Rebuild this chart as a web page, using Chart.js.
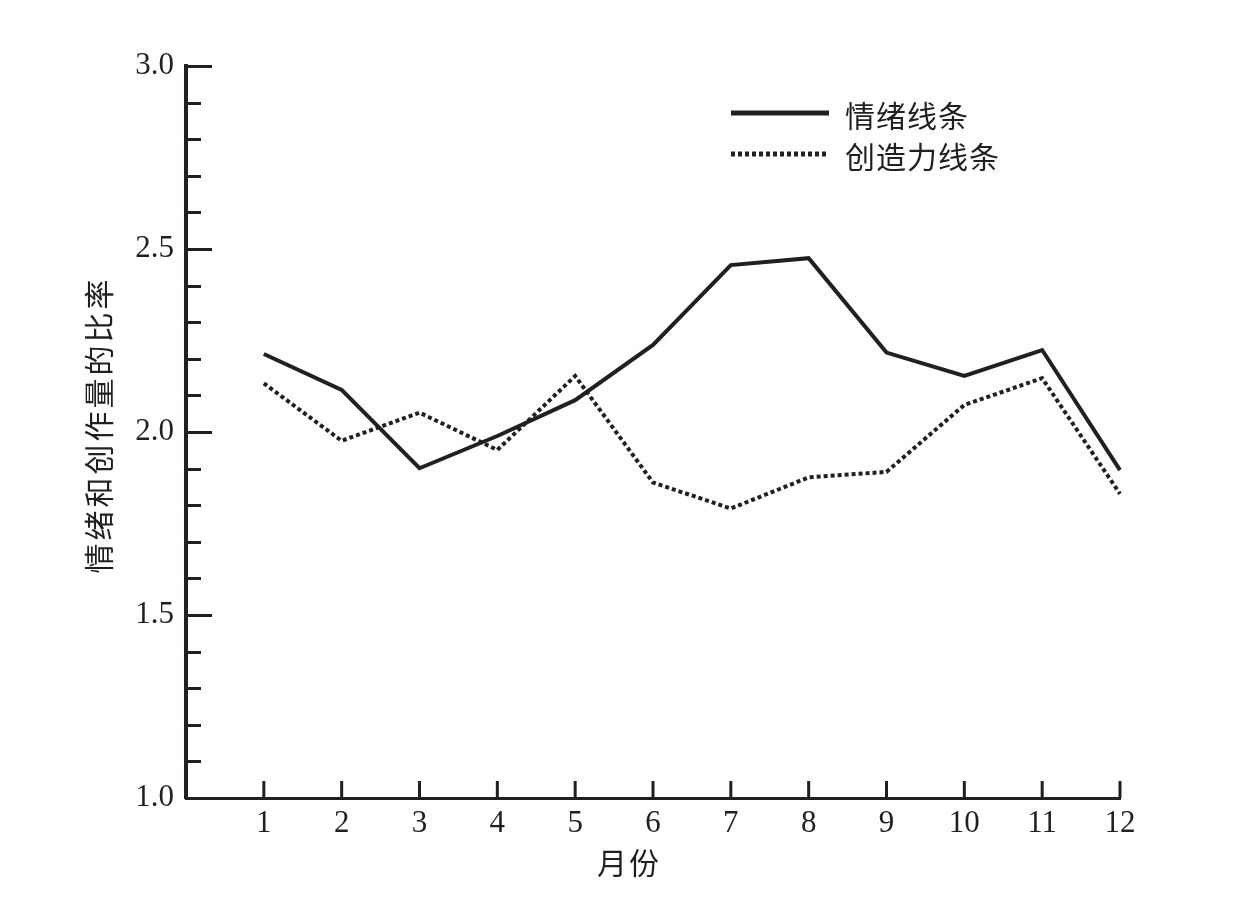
<!DOCTYPE html>
<html><head><meta charset="utf-8">
<script src="https://cdn.jsdelivr.net/npm/chart.js@4.4.0/dist/chart.umd.min.js"></script>
<style>html,body{margin:0;padding:0;background:#fff}#wrap{width:1243px;height:902px;position:relative}</style>
</head><body><div id="wrap"><canvas id="c" width="1243" height="902"></canvas></div>
<script>
// ---- data ----
const months = [1,2,3,4,5,6,7,8,9,10,11,12];
const emotionValues = [2.213,2.115,1.901,1.989,2.087,2.238,2.456,2.475,2.217,2.153,2.224,1.896];
const creativityValues = [2.133,1.976,2.053,1.951,2.153,1.862,1.791,1.876,1.891,2.074,2.147,1.831];
const seriesNames = ['情绪线条','创造力线条'];
const yTickValues = [1.0,1.5,2.0,2.5,3.0];
const yTickLabels = ['1.0','1.5','2.0','2.5','3.0'];
const xTitle = '月份';
const yTitle = '情绪和创作量的比率';

const INK = '#231f20';
const CJK = '"Noto Sans CJK SC", sans-serif';
const SERIF = '"Liberation Serif", "DejaVu Serif", serif';

const innerTicks = {
  id: 'innerTicks',
  afterDraw(chart) {
    const ctx = chart.ctx, x = chart.scales.x, y = chart.scales.y;
    const area = chart.chartArea;
    ctx.save();
    ctx.strokeStyle = INK;
    ctx.lineWidth = 3;
    // y ticks every 0.1, major every 0.5
    for (let k = 11; k <= 30; k++) {
      const v = k / 10;
      const py = Math.round(y.getPixelForValue(v)) + 0.5;
      const len = (k % 5 === 0) ? 26 : 15;
      ctx.beginPath();
      ctx.moveTo(area.left, py);
      ctx.lineTo(area.left + len, py);
      ctx.stroke();
    }
    // x ticks
    months.forEach(m => {
      const px = x.getPixelForValue(m);
      ctx.beginPath();
      ctx.moveTo(px, area.bottom);
      ctx.lineTo(px, area.bottom - 17);
      ctx.stroke();
    });
    // axis titles
    ctx.fillStyle = INK;
    ctx.font = '30px ' + CJK;
    ctx.textAlign = 'center';
    ctx.textBaseline = 'middle';
    ctx.letterSpacing = '2px';
    ctx.fillText(xTitle, 629, 863);
    ctx.save();
    ctx.translate(99, 425);
    ctx.rotate(-Math.PI / 2);
    ctx.letterSpacing = '3px';
    ctx.fillText(yTitle, 0, 0);
    ctx.restore();
    // legend
    ctx.letterSpacing = '1px';
    ctx.textAlign = 'left';
    chart.data.datasets.forEach((ds, i) => {
      const ly = 113 + i * 41;
      ctx.save();
      ctx.lineWidth = 5;
      ctx.lineCap = 'butt';
      ctx.setLineDash(ds.borderDash || []);
      ctx.beginPath();
      ctx.moveTo(731, ly);
      ctx.lineTo(829, ly);
      ctx.stroke();
      ctx.restore();
      ctx.fillText(ds.label, 845, ly + 3);
    });
    ctx.restore();
  }
};

new Chart(document.getElementById('c'), {
  type: 'line',
  data: {
    datasets: [
      {
        label: seriesNames[0],
        data: months.map((m, i) => ({x: m, y: emotionValues[i]})),
        borderColor: INK, borderWidth: 4, tension: 0, pointRadius: 0,
        borderJoinStyle: 'miter', fill: false, clip: false
      },
      {
        label: seriesNames[1],
        data: months.map((m, i) => ({x: m, y: creativityValues[i]})),
        borderColor: INK, borderWidth: 4, tension: 0, pointRadius: 0,
        borderDash: [4, 3], borderCapStyle: 'butt', fill: false, clip: false
      }
    ]
  },
  options: {
    responsive: false,
    animation: false,
    devicePixelRatio: 1,
    layout: { padding: { left: 0, right: 123, top: 66, bottom: 0 } },
    plugins: { legend: { display: false }, tooltip: { enabled: false } },
    scales: {
      x: {
        type: 'linear', min: 0, max: 12,
        afterBuildTicks: s => { s.ticks = months.map(v => ({value: v})); },
        afterFit: s => { s.height = 104; },
        grid: { display: true, drawOnChartArea: false, drawTicks: false },
        border: { display: true, color: INK, width: 3 },
        ticks: { color: INK, font: { family: SERIF, size: 31 }, padding: 7, maxRotation: 0, autoSkip: false,
          callback: v => String(v) }
      },
      y: {
        type: 'linear', min: 1, max: 3,
        afterBuildTicks: s => { s.ticks = yTickValues.map(v => ({value: v})); },
        afterFit: s => { s.width = 186; },
        grid: { display: true, drawOnChartArea: false, drawTicks: false },
        border: { display: true, color: INK, width: 4 },
        ticks: { color: INK, font: { family: SERIF, size: 31 }, padding: 12, autoSkip: false,
          callback: v => yTickLabels[yTickValues.indexOf(v)] }
      }
    }
  },
  plugins: [innerTicks]
});
</script></body></html>
